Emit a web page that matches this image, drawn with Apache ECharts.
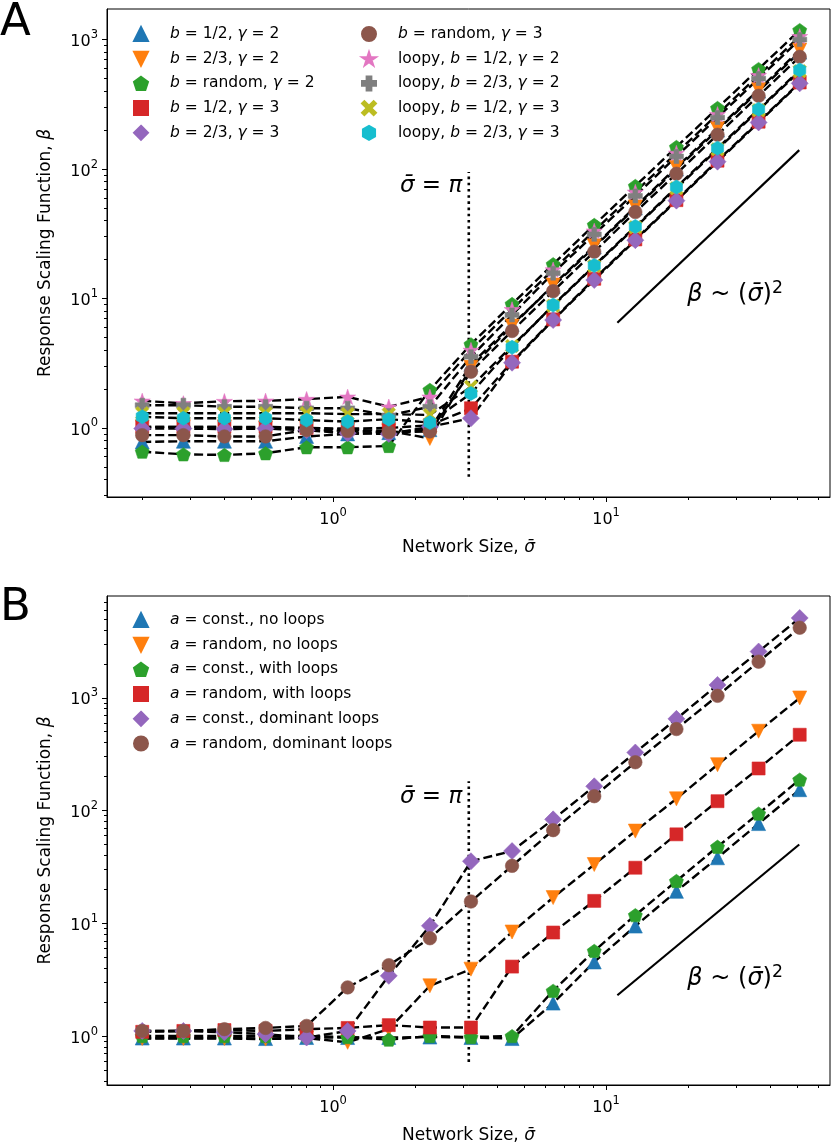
<!DOCTYPE html>
<html><head><meta charset="utf-8">
<script src="https://cdn.jsdelivr.net/npm/echarts@6/dist/echarts.min.js"></script>
<style>html,body{margin:0;padding:0;background:#fff}#c{width:831px;height:1145px}</style>
</head><body><div id="c"></div>
<script>
// ---------- data ----------
const sigma = [0.2, 0.283, 0.4, 0.566, 0.8, 1.131, 1.6, 2.263, 3.2, 4.525, 6.4, 9.051, 12.8, 18.1, 25.6, 36.2, 51.2];

const namesA = ['b = 1/2, γ = 2', 'b = 2/3, γ = 2', 'b = random, γ = 2', 'b = 1/2, γ = 3', 'b = 2/3, γ = 3',
  'b = random, γ = 3', 'loopy, b = 1/2, γ = 2', 'loopy, b = 2/3, γ = 2', 'loopy, b = 1/2, γ = 3', 'loopy, b = 2/3, γ = 3'];
const A_b12_g2 = [0.78, 0.79, 0.79, 0.79, 0.86, 0.9, 0.92, 0.97, 3.1, 6.3, 12.4, 25, 50, 100, 200, 400, 800];
const A_b23_g2 = [1.02, 1.02, 1.02, 1.0, 1.0, 0.97, 0.95, 0.83, 2.94, 6.13, 12.7, 25.5, 51, 103, 205, 410, 829];
const A_brand_g2 = [0.656, 0.626, 0.619, 0.638, 0.71, 0.71, 0.726, 1.97, 4.43, 9.07, 18.4, 37, 74, 148, 296, 592, 1184];
const A_b12_g3 = [1.02, 1.02, 1.02, 1.02, 1.0, 0.99, 1.0, 1.05, 1.42, 3.25, 6.9, 14.2, 28.6, 57.5, 116, 232, 466];
const A_b23_g3 = [0.99, 0.99, 0.98, 0.99, 0.96, 0.91, 0.90, 1.02, 1.19, 3.19, 6.82, 13.9, 28.2, 57, 114, 229, 459];
const A_brand_g3 = [0.88, 0.88, 0.86, 0.86, 0.965, 0.95, 0.93, 0.94, 2.72, 5.61, 11.4, 23, 46.5, 92, 184, 368, 736];
const A_loopy_b12_g2 = [1.62, 1.55, 1.61, 1.62, 1.67, 1.74, 1.46, 1.74, 4.0, 8.25, 16.7, 33.3, 66.5, 133, 265, 530, 1060];
const A_loopy_b23_g2 = [1.50, 1.50, 1.46, 1.46, 1.42, 1.42, 1.25, 1.46, 3.55, 7.46, 15.7, 31.3, 62, 125, 250, 500, 1000];
const A_loopy_b12_g3 = [1.30, 1.30, 1.30, 1.30, 1.30, 1.28, 1.28, 1.26, 2.08, 4.3, 8.8, 17.8, 35.5, 71, 142, 285, 570];
const A_loopy_b23_g3 = [1.22, 1.19, 1.19, 1.19, 1.15, 1.12, 1.17, 1.10, 1.85, 4.2, 8.9, 18, 36, 72.5, 145, 290, 581];

const namesB = ['a = const., no loops', 'a = random, no loops', 'a = const., with loops',
  'a = random, with loops', 'a = const., dominant loops', 'a = random, dominant loops'];
const B_const_noloops = [0.96, 0.96, 0.96, 0.95, 0.97, 0.97, 0.97, 0.98, 0.97, 0.95, 1.96, 4.54, 9.45, 19.2, 38.1, 76.6, 153];
const B_rand_noloops = [0.95, 0.95, 0.95, 0.94, 0.96, 0.88, 1.15, 2.79, 3.92, 8.37, 16.9, 33.2, 65.7, 127, 255, 505, 996];
const B_const_loops = [1.0, 1.0, 1.0, 1.0, 1.0, 0.98, 0.93, 1.0, 0.98, 1.0, 2.52, 5.69, 11.8, 23.7, 47.7, 94, 188];
const B_rand_loops = [1.09, 1.11, 1.13, 1.11, 1.15, 1.18, 1.25, 1.19, 1.19, 4.13, 8.28, 15.8, 31.1, 61.5, 121, 236, 470];
const B_const_dom = [1.11, 1.11, 1.08, 1.04, 0.97, 1.11, 3.42, 9.5, 35.5, 43.7, 83.5, 164, 327, 650, 1300, 2570, 5100];
const B_rand_dom = [1.11, 1.11, 1.15, 1.18, 1.23, 2.70, 4.25, 7.37, 15.6, 32.3, 67, 134, 268, 528, 1040, 2090, 4180];

// reference marks (data space)
const piLineA = [[Math.PI, 0.42], [Math.PI, 95]];
const piLineB = [[Math.PI, 0.59], [Math.PI, 182]];
const slopeA = [[11, 6.5], [51, 140]];
const slopeB = [[11, 2.3], [51, 50]];
const piLabelA = [[Math.PI, 74]];
const piLabelB = [[Math.PI, 133]];
const slopeLabelA = [[29.7, 10.6]];
const slopeLabelB = [[29.7, 3.2]];

// axis ranges and tick values
const xRange = [0.1486, 66.1];
const yRangeA = [0.293, 1722];
const yRangeB = [0.368, 7990];
const xMajor = [1, 10];
const xMinor = [0.2, 0.3, 0.4, 0.5, 0.6, 0.7, 0.8, 0.9, 2, 3, 4, 5, 6, 7, 8, 9, 20, 30, 40, 50, 60];
const yMajor = [1, 10, 100, 1000];
const yMinorA = [0.3, 0.4, 0.5, 0.6, 0.7, 0.8, 0.9, 2, 3, 4, 5, 6, 7, 8, 9, 20, 30, 40, 50, 60, 70, 80, 90, 200, 300, 400, 500, 600, 700, 800, 900];
const yMinorB = [0.4, 0.5, 0.6, 0.7, 0.8, 0.9, 2, 3, 4, 5, 6, 7, 8, 9, 20, 30, 40, 50, 60, 70, 80, 90, 200, 300, 400, 500, 600, 700, 800, 900, 2000, 3000, 4000, 5000, 6000, 7000];

// ---------- styling ----------
const FONT = 'DejaVu Sans';
const colors = ['#1f77b4', '#ff7f0e', '#2ca02c', '#d62728', '#9467bd', '#8c564b', '#e377c2', '#7f7f7f', '#bcbd22', '#17becf'];
const SYM = {
  up: 'triangle',
  down: 'path://M0,0L100,0L50,100Z',
  pent: 'path://M50,0L97.55,34.55L79.39,90.45L20.61,90.45L2.45,34.55Z',
  square: 'rect',
  diamond: 'diamond',
  circle: 'circle',
  star: 'path://M50,0L61.23,34.55L97.55,34.55L68.17,55.9L79.39,90.45L50,69.1L20.61,90.45L31.83,55.9L2.45,34.55L38.77,34.55Z',
  plus: 'path://M33,0L67,0L67,33L100,33L100,67L67,67L67,100L33,100L33,67L0,67L0,33L33,33Z',
  x: 'path://M0,17L17,0L50,33L83,0L100,17L67,50L100,83L83,100L50,67L17,100L0,83L33,50Z',
  hex: 'path://M50,0L93.3,25L93.3,75L50,100L6.7,75L6.7,25Z'
};
const SIZE = { up: 14, down: 14, pent: 14, square: 13, diamond: 17, circle: 13.5, star: 16, plus: 14, x: 13.5, hex: 14 };
const symsA = ['up', 'down', 'pent', 'square', 'diamond', 'circle', 'star', 'plus', 'x', 'hex'];
const symsB = ['up', 'down', 'pent', 'square', 'diamond', 'circle'];
const dataA = [A_b12_g2, A_b23_g2, A_brand_g2, A_b12_g3, A_b23_g3, A_brand_g3, A_loopy_b12_g2, A_loopy_b23_g2, A_loopy_b12_g3, A_loopy_b23_g3];
const dataB = [B_const_noloops, B_rand_noloops, B_const_loops, B_rand_loops, B_const_dom, B_rand_dom];

function supLabel(v) {
  const e = Math.round(Math.log10(v));
  return '{b|10}{s|' + e + '}';
}

function dataSeries(name, vals, color, sym, gi) {
  return {
    name, type: 'line', xAxisIndex: gi * 2, yAxisIndex: gi * 2,
    data: sigma.map((s, i) => [s, vals[i]]),
    symbol: SYM[sym], symbolSize: SIZE[sym], symbolKeepAspect: true, showAllSymbol: true,
    itemStyle: { color: color, borderColor: color, borderWidth: 0.6 },
    lineStyle: { color: '#000', width: 2.4, type: [9, 4] },
    emphasis: { disabled: true }, z: 3, animation: false
  };
}
function plainLine(data, gi, dashed) {
  return {
    type: 'line', xAxisIndex: gi * 2, yAxisIndex: gi * 2, data, symbol: 'none',
    lineStyle: { color: '#000', width: dashed ? 2.6 : 2.2, type: dashed ? [2.6, 3.6] : 'solid' },
    emphasis: { disabled: true }, z: 2, animation: false, silent: true
  };
}
function textSeries(data, gi, fmt, pos, size) {
  return {
    type: 'scatter', xAxisIndex: gi * 2, yAxisIndex: gi * 2, data, symbolSize: 1,
    itemStyle: { color: 'rgba(255,255,255,0)', opacity: 1 }, silent: true, animation: false, z: 5,
    label: {
      show: true, position: pos, distance: 6, formatter: fmt, color: '#000', opacity: 1,
      textBorderWidth: 0, fontSize: size, fontFamily: FONT,
      rich: {
        i: { fontStyle: 'italic', fontSize: size, fontFamily: FONT, color: '#000', textBorderWidth: 0 },
        s: { fontSize: size * 0.72, fontFamily: FONT, color: '#000', verticalAlign: 'top', lineHeight: size * 1.25, textBorderWidth: 0 }
      }
    }
  };
}
const tickRich = {
  b: { fontSize: 16, fontFamily: FONT, color: '#000', lineHeight: 21, verticalAlign: 'bottom' },
  s: { fontSize: 11.5, fontFamily: FONT, color: '#000', lineHeight: 21, verticalAlign: 'top' }
};
const nameStyle = { color: '#000', fontFamily: FONT, fontSize: 17, rich: { i: { fontStyle: 'italic', fontSize: 17, fontFamily: FONT, color: '#000' } } };

function xAxes(gi) {
  return [
    { type: 'log', gridIndex: gi, min: xRange[0], max: xRange[1], position: 'bottom',
      axisLine: { show: true, lineStyle: { color: '#000', width: 1 } },
      axisTick: { show: true, customValues: xMajor, length: 5, lineStyle: { color: '#000', width: 1 } },
      axisLabel: { show: true, customValues: xMajor, formatter: supLabel, margin: 10, rich: tickRich },
      splitLine: { show: false },
      name: 'Network Size, {i|σ̄}', nameLocation: 'middle', nameGap: 42, nameTextStyle: nameStyle },
    { type: 'log', gridIndex: gi, min: xRange[0], max: xRange[1], position: 'bottom', offset: 0,
      axisLine: { show: false },
      axisTick: { show: true, customValues: xMinor, length: 3, lineStyle: { color: '#000', width: 1 } },
      axisLabel: { show: false }, splitLine: { show: false } }
  ];
}
function yAxes(gi, range, minor) {
  return [
    { type: 'log', gridIndex: gi, min: range[0], max: range[1], position: 'left',
      axisLine: { show: true, lineStyle: { color: '#000', width: 1 } },
      axisTick: { show: true, customValues: yMajor, length: 5, lineStyle: { color: '#000', width: 1 } },
      axisLabel: { show: true, customValues: yMajor, formatter: supLabel, margin: 9, rich: tickRich },
      splitLine: { show: false },
      name: 'Response Scaling Function, {i|β}', nameLocation: 'middle', nameGap: 53, nameTextStyle: nameStyle },
    { type: 'log', gridIndex: gi, min: range[0], max: range[1], position: 'left', offset: 0,
      axisLine: { show: false },
      axisTick: { show: true, customValues: minor, length: 3, lineStyle: { color: '#000', width: 1 } },
      axisLabel: { show: false }, splitLine: { show: false } }
  ];
}

const LF = 15.5;
const legendText = { color: '#000', fontFamily: FONT, fontSize: LF, lineHeight: 16, padding: [0, 0, 0, 17],
  rich: { i: { fontStyle: 'italic', fontSize: LF, lineHeight: 16, fontFamily: FONT, color: '#000' } } };
function legendFmt(name) {
  return name.replace(/\bb\b/g, '{i|b}').replace(/γ/g, '{i|γ}').replace(/^a /, '{i|a} ');
}
function legend(names, syms, left, top) {
  return {
    data: names.map((n, i) => ({ name: n, icon: SYM[syms[i]] })),
    orient: 'vertical', left, top, itemWidth: 14, itemHeight: 14, itemGap: 8.7,
    selectedMode: false, textStyle: legendText, formatter: legendFmt, padding: 0
  };
}

const series = [];
series.push(plainLine(piLineA, 0, true), plainLine(slopeA, 0, false));
series.push(plainLine(piLineB, 1, true), plainLine(slopeB, 1, false));
namesA.forEach((n, i) => series.push(dataSeries(n, dataA[i], colors[i], symsA[i], 0)));
namesB.forEach((n, i) => series.push(dataSeries(n, dataB[i], colors[i], symsB[i], 1)));
series.push(textSeries(piLabelA, 0, '{i|σ̄} = {i|π}', 'left', 23));
series.push(textSeries(piLabelB, 1, '{i|σ̄} = {i|π}', 'left', 23));
series.push(textSeries(slopeLabelA, 0, '{i|β} ~ ({i|σ̄}){s|2}', 'inside', 24));
series.push(textSeries(slopeLabelB, 1, '{i|β} ~ ({i|σ̄}){s|2}', 'inside', 24));

const option = {
  animation: false,
  backgroundColor: '#fff',
  grid: [
    { left: 107, top: 9, right: 1, height: 488, show: true, borderColor: '#000', borderWidth: 1, containLabel: false },
    { left: 107, top: 596, right: 1, height: 490, show: true, borderColor: '#000', borderWidth: 1, containLabel: false }
  ],
  xAxis: [...xAxes(0), ...xAxes(1)],
  yAxis: [...yAxes(0, yRangeA, yMinorA), ...yAxes(1, yRangeB, yMinorB)],
  legend: [
    legend(namesA.slice(0, 5), symsA.slice(0, 5), 133, 26),
    legend(namesA.slice(5), symsA.slice(5), 361, 26),
    legend(namesB, symsB, 133, 612)
  ],
  graphic: [
    { type: 'text', left: 0, top: 1, style: { text: 'A', font: '45px "DejaVu Sans"', fill: '#000' } },
    { type: 'text', left: 0, top: 586, style: { text: 'B', font: '45px "DejaVu Sans"', fill: '#000' } }
  ],
  series
};
const chart = echarts.init(document.getElementById('c'), null, { renderer: 'canvas' });
chart.setOption(option);
</script>
</body></html>
